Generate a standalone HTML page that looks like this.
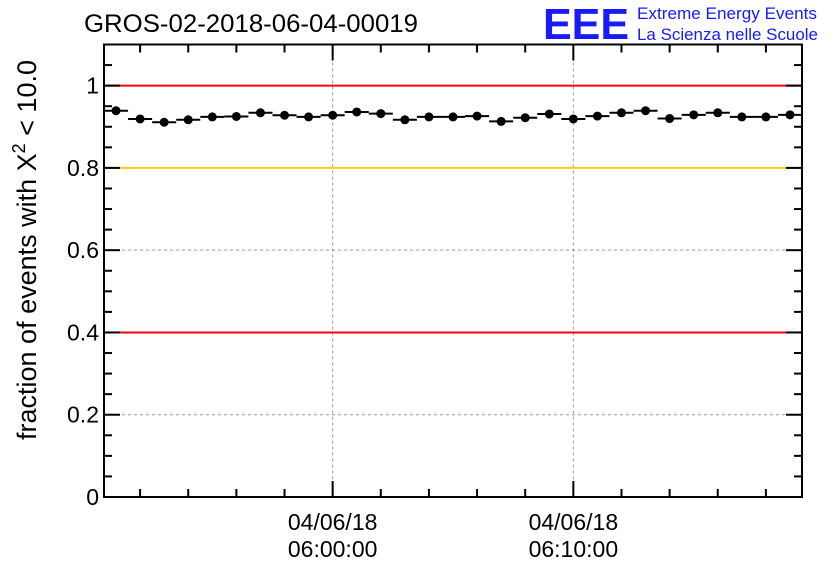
<!DOCTYPE html>
<html><head><meta charset="utf-8"><style>
body{margin:0;background:#fff;width:836px;height:572px;overflow:hidden;font-family:"Liberation Sans",sans-serif}
</style></head><body>
<svg width="836" height="572" xmlns="http://www.w3.org/2000/svg" font-family="Liberation Sans, sans-serif">
<text x="84" y="32" font-size="25" textLength="334" lengthAdjust="spacingAndGlyphs">GROS-02-2018-06-04-00019</text>
<g>
<text x="543" y="39" font-size="44" font-weight="bold" fill="#1a1aff" textLength="86" lengthAdjust="spacingAndGlyphs">EEE</text>
<text x="637" y="19" font-size="17" fill="#1a1aff" textLength="180" lengthAdjust="spacingAndGlyphs">Extreme Energy Events</text>
<text x="637" y="40" font-size="17" fill="#1a1aff" textLength="181" lengthAdjust="spacingAndGlyphs">La Scienza nelle Scuole</text>
</g>
<text transform="translate(36,250) rotate(-90)" text-anchor="middle" font-size="27">fraction of events with X<tspan dy="-11" font-size="18">2</tspan><tspan dy="11"> &lt; 10.0</tspan></text>
<g id="grid"></g><g id="axes"></g><g id="marks"></g>
</svg>
<script>
const values=[0.939,0.919,0.911,0.917,0.924,0.925,0.934,0.928,0.924,0.928,0.936,0.932,0.917,0.924,0.924,0.926,0.913,0.922,0.931,0.919,0.926,0.934,0.939,0.920,0.929,0.934,0.924,0.924,0.929];
const yTicks=[0,0.2,0.4,0.6,0.8,1];
const yTickLabels=["0","0.2","0.4","0.6","0.8","1"];
const xTickMinutes=[9.5,19.5];
const xTickLabels=[["04/06/18","06:00:00"],["04/06/18","06:10:00"]];
const refLines=[{v:1,c:"#ff0000"},{v:0.8,c:"#ffcc00"},{v:0.4,c:"#ff0000"}];
const gridLines=[0.2,0.6];
const L=104,R=802,T=44.5,B=497,yMax=1.1,nMin=29;
const X=m=>L+(R-L)*m/nMin;
const Y=v=>B-(B-T)*v/yMax;
const NS="http://www.w3.org/2000/svg";
function mk(p,t,a){const e=document.createElementNS(NS,t);for(const k in a)e.setAttribute(k,a[k]);document.getElementById(p).appendChild(e);return e;}
gridLines.forEach(v=>{const e=mk('grid','line',{x1:L,x2:R,y1:Y(v),y2:Y(v),stroke:'#999','stroke-dasharray':'3,3'});

});
xTickMinutes.forEach(m=>{const x=X(m);const e=mk('grid','line',{x1:x,x2:x,y1:T,y2:B,stroke:'#999','stroke-dasharray':'3,3'});

});
refLines.forEach(r=>{const e=mk('grid','line',{x1:L,x2:R,y1:Y(r.v),y2:Y(r.v),stroke:r.c,'stroke-width':2});

});
const f=mk('axes','rect',{x:L,y:T,width:R-L,height:B-T,fill:'none',stroke:'#000','stroke-width':2});


for(let i=0;i<=22;i++){const v=i*0.05;const major=i%4===0;const len=major?16:8;const y=Y(v);
mk('axes','line',{x1:L,x2:L+len,y1:y,y2:y,stroke:'#000','stroke-width':2});
mk('axes','line',{x1:R,x2:R-len,y1:y,y2:y,stroke:'#000','stroke-width':2});}
yTicks.forEach((v,i)=>{const t=mk('axes','text',{x:L-5,y:Y(v)+8,'text-anchor':'end','font-size':23});t.textContent=yTickLabels[i];

});
for(let m=1.5;m<nMin;m+=2){const x=X(m);const major=xTickMinutes.some(t=>Math.abs(t-m)<0.01);const len=major?16:8;
mk('axes','line',{x1:x,x2:x,y1:B,y2:B-len,stroke:'#000','stroke-width':2});
mk('axes','line',{x1:x,x2:x,y1:T,y2:T+len,stroke:'#000','stroke-width':2});}
xTickMinutes.forEach((m,i)=>{const x=X(m);
[0,1].forEach(j=>{const t=mk('axes','text',{x:x,y:530+j*27,'text-anchor':'middle','font-size':23});t.textContent=xTickLabels[i][j];

});});
values.forEach((v,i)=>{const x0=X(i),x1=X(i+1),y=Y(v);
const h=mk('marks','line',{x1:x0,x2:x1,y1:y,y2:y,stroke:'#000','stroke-width':2});


const c=mk('marks','circle',{cx:(x0+x1)/2,cy:y,r:4.5,fill:'#000'});

});
</script>
</body></html>
